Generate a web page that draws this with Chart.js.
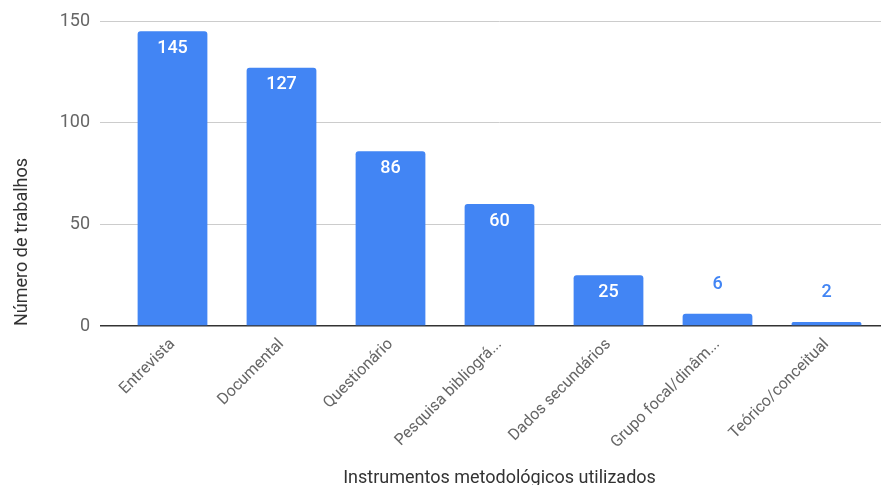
<!DOCTYPE html>
<html>
<head>
<meta charset="utf-8">
<script src="https://cdn.jsdelivr.net/npm/chart.js@4"></script>
<style>
  html, body { margin: 0; padding: 0; background: #fff; }
  #wrap { width: 885px; height: 485px; }
</style>
</head>
<body>
<div id="wrap"><canvas id="chart"></canvas></div>
<script>
const categories = [
  "Entrevista",
  "Documental",
  "Questionário",
  "Pesquisa bibliográ...",
  "Dados secundários",
  "Grupo focal/dinâm...",
  "Teórico/conceitual",
];
const counts = [145, 127, 86, 60, 25, 6, 2];
const yTicks = [0, 50, 100, 150];

const BLUE = "#4285F4";
const FONT = "Roboto";

// value labels: white inside tall bars, blue above short ones
const valueLabels = {
  id: "valueLabels",
  afterDatasetsDraw(chart) {
    const ctx = chart.ctx;
    const meta = chart.getDatasetMeta(0);
    ctx.save();
    ctx.font = "500 18px " + FONT;
    ctx.textAlign = "center";
    ctx.textBaseline = "middle";
    meta.data.forEach((bar, i) => {
      const v = counts[i];
      if (v >= 20) {
        ctx.fillStyle = "#ffffff";
        ctx.fillText(String(v), bar.x, bar.y + 17);
      } else {
        ctx.fillStyle = BLUE;
        ctx.fillText(String(v), bar.x, bar.y - 29);
      }
    });
    ctx.restore();
  },
};

new Chart(document.getElementById("chart"), {
  type: "bar",
  data: {
    labels: categories,
    datasets: [
      {
        data: counts,
        backgroundColor: BLUE,
        borderRadius: { topLeft: 3, topRight: 3 },
        borderSkipped: "bottom",
        categoryPercentage: 1,
        barPercentage: 0.64,
      },
    ],
  },
  options: {
    responsive: true,
    maintainAspectRatio: false,
    animation: false,
    layout: { padding: { top: 21, right: 4, left: 12, bottom: 0 } },
    plugins: {
      legend: { display: false },
      tooltip: { enabled: false },
    },
    scales: {
      x: {
        grid: { display: false },
        border: { display: false },
        ticks: {
          color: "#666",
          font: { family: FONT, size: 16 },
          maxRotation: 45,
          minRotation: 45,
          autoSkip: false,
          padding: 1,
        },
        title: {
          display: true,
          text: "Instrumentos metodológicos utilizados",
          color: "#333",
          font: { family: FONT, size: 18 },
          padding: { top: 0, bottom: -4 },
        },
        afterFit(scale) {
          scale.height = 159;
        },
      },
      y: {
        min: 0,
        max: 150,
        afterBuildTicks(scale) {
          scale.ticks = yTicks.map((v) => ({ value: v }));
        },
        grid: {
          color: (c) => (c.tick && c.tick.value === 0 ? "#333" : "#ccc"),
          lineWidth: (c) => (c.tick && c.tick.value === 0 ? 1.5 : 1),
          tickLength: 18,
        },
        border: { display: false },
        ticks: {
          color: "#666",
          font: { family: FONT, size: 18 },
          padding: 10,
        },
        title: {
          display: true,
          text: "Número de trabalhos",
          align: "start",
          color: "#333",
          font: { family: FONT, size: 18 },
          padding: { top: 0, bottom: 4 },
        },
        afterFit(scale) {
          scale.width = 106;
        },
      },
    },
  },
  plugins: [valueLabels],
});
</script>
</body>
</html>
